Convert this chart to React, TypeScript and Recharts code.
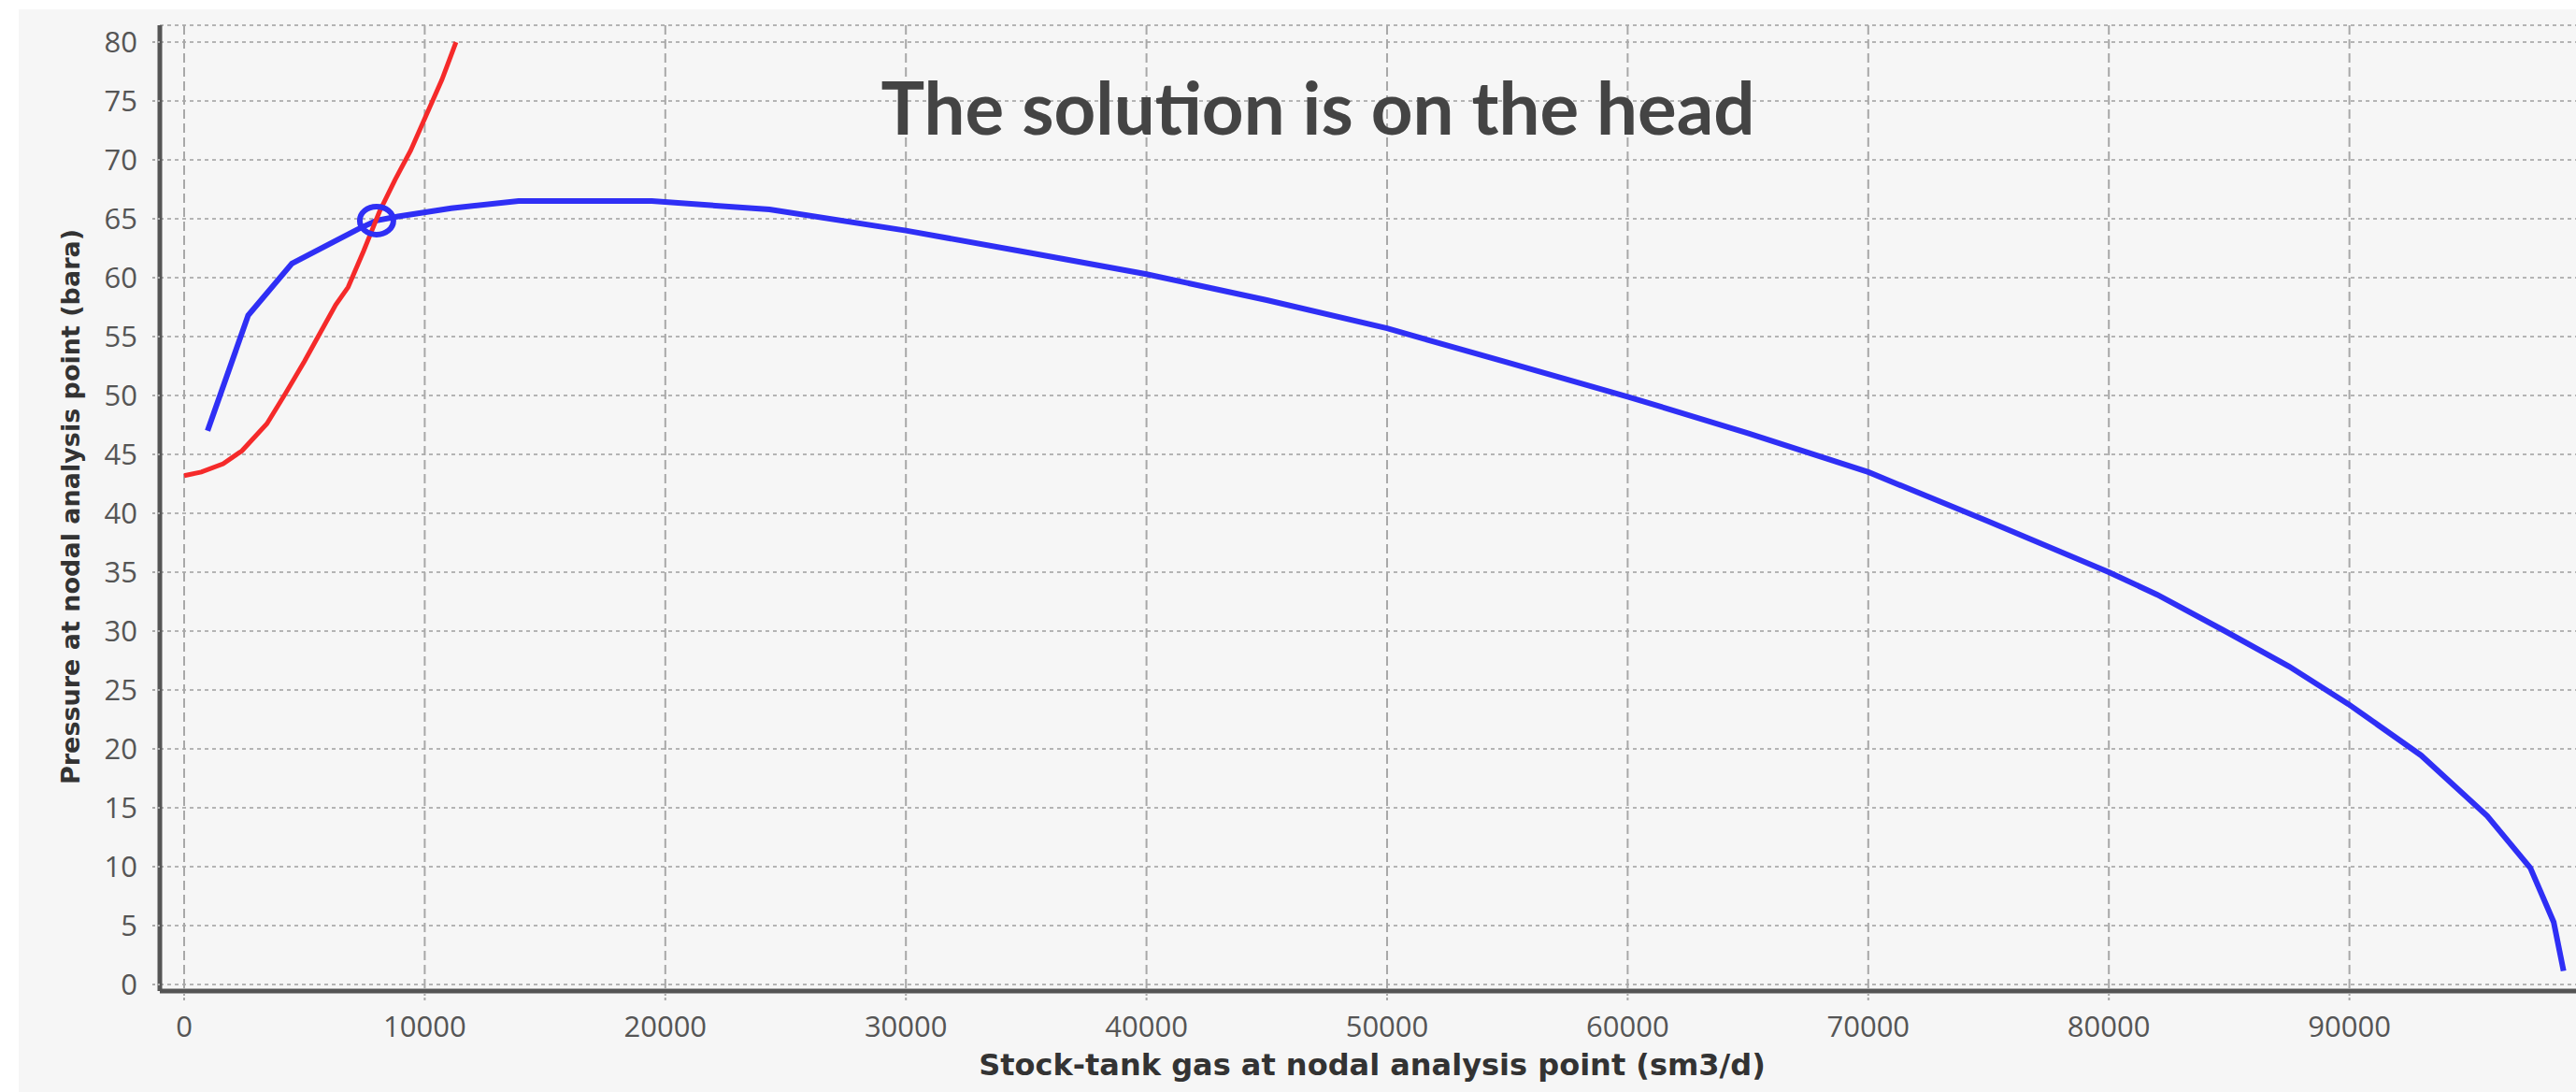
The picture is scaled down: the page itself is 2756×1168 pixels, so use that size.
import {
  ComposedChart,
  Line,
  XAxis,
  YAxis,
  CartesianGrid,
  ReferenceDot,
} from "recharts";

// stock-tank gas rate (sm3/d) vs pressure (bara)
const blueRate = [
  974, 2662, 4480, 7208, 8000, 8896, 11100, 13900, 19440, 24330, 30000, 35170,
  40000, 45000, 50000, 55000, 60000, 65000, 70000, 75000, 80000, 82000, 84740,
  87490, 89960, 92980, 95730, 97520, 98490, 98900,
];
const bluePressure = [
  47.0, 56.8, 61.2, 64.1, 64.85, 65.2, 65.9, 66.5, 66.5, 65.8, 64.0, 62.1,
  60.3, 58.1, 55.7, 52.8, 49.9, 46.8, 43.5, 39.3, 35.0, 33.1, 30.1, 27.0,
  23.8, 19.45, 14.3, 9.9, 5.3, 1.15,
];

const redRate = [
  0, 714, 1623, 2400, 3440, 4220, 5000, 5650, 6300, 6818, 7468, 8117, 8766,
  9416, 10195, 10714, 11300,
];
const redPressure = [
  43.2, 43.5, 44.2, 45.3, 47.6, 50.2, 52.9, 55.3, 57.7, 59.2, 62.3, 65.6, 68.3,
  70.8, 74.4, 76.8, 80.0,
];

const solutionRate = 8000;
const solutionPressure = 64.85;

const xTicks = [0, 10000, 20000, 30000, 40000, 50000, 60000, 70000, 80000, 90000];
const yTicks = [0, 5, 10, 15, 20, 25, 30, 35, 40, 45, 50, 55, 60, 65, 70, 75, 80];

const blueData = blueRate.map((x, i) => ({ x, y: bluePressure[i] }));
const redData = redRate.map((x, i) => ({ x, y: redPressure[i] }));

const tickStyle = { fontFamily: "'Open Sans', sans-serif", fontSize: 31, fill: "#555" };
const labelFont = "'DejaVu Sans', sans-serif";

function SolutionRing(props: any) {
  const { cx, cy } = props;
  return (
    <ellipse cx={cx} cy={cy} rx={18} ry={15} fill="none" stroke="#2f2ff5" strokeWidth={6} />
  );
}

export default function App() {
  return (
    <div
      style={{
        position: "absolute",
        left: 0,
        top: 0,
        width: 2756,
        height: 1168,
        overflow: "hidden",
        background: "#ffffff",
      }}
    >
      <div
        style={{ position: "absolute", left: 20, top: 10, right: 0, bottom: 0, background: "#f6f6f6" }}
      />
      <div style={{ position: "absolute", left: 0, top: 0 }}>
        <ComposedChart width={2800} height={1168} margin={{ top: 27, right: 0, bottom: 0, left: 0 }}>
          <CartesianGrid
            horizontal={true}
            vertical={false}
            stroke="#b4b4b4"
            strokeWidth={2}
            strokeDasharray="4 4"
          />
          <CartesianGrid
            horizontal={false}
            vertical={true}
            stroke="#a8a8a8"
            strokeWidth={2}
            strokeDasharray="10 5"
          />
          <XAxis
            dataKey="x"
            type="number"
            domain={[-1010, 101127]}
            ticks={xTicks}
            allowDataOverflow
            height={108}
            tickSize={10}
            tickMargin={17}
            tick={tickStyle}
            tickLine={{ stroke: "#aaa", strokeWidth: 2, strokeDasharray: "3 2" }}
            axisLine={{ stroke: "#555", strokeWidth: 5 }}
          />
          <XAxis
            xAxisId="top"
            orientation="top"
            type="number"
            domain={[-1010, 101127]}
            height={0}
            tick={false}
            tickLine={false}
            axisLine={{ stroke: "#555", strokeWidth: 5 }}
          />
          <YAxis
            dataKey="y"
            type="number"
            domain={[-0.556, 81.43]}
            ticks={yTicks}
            allowDataOverflow
            width={171}
            tickSize={8}
            tickMargin={16}
            tick={tickStyle}
            tickLine={{ stroke: "#aaa", strokeWidth: 2, strokeDasharray: "3 2" }}
            axisLine={{ stroke: "#555", strokeWidth: 5 }}
          />
          <Line
            data={blueData}
            dataKey="y"
            type="linear"
            stroke="#2f2ff5"
            strokeWidth={6}
            dot={false}
            activeDot={false}
            isAnimationActive={false}
          />
          <Line
            data={redData}
            dataKey="y"
            type="linear"
            stroke="#f52a2a"
            strokeWidth={5}
            dot={false}
            activeDot={false}
            isAnimationActive={false}
          />
          <ReferenceDot
            x={solutionRate}
            y={solutionPressure}
            r={17}
            shape={SolutionRing}
          />
        </ComposedChart>
      </div>
      <svg
        width={2756}
        height={1168}
        style={{ position: "absolute", left: 0, top: 0, pointerEvents: "none" }}
      >
        <text
          x={1410}
          y={144}
          textAnchor="middle"
          fontFamily="Lato, sans-serif"
          fontWeight="bold"
          fontSize={78}
          fill="#444"
        >
          The solution is on the head
        </text>
        <text
          x={1468}
          y={1150}
          textAnchor="middle"
          fontFamily={labelFont}
          fontWeight="bold"
          fontSize={32}
          fill="#333"
        >
          Stock-tank gas at nodal analysis point (sm3/d)
        </text>
        <text
          x={85}
          y={542}
          transform="rotate(-90 85 542)"
          textAnchor="middle"
          fontFamily={labelFont}
          fontWeight="bold"
          fontSize={27}
          fill="#333"
        >
          Pressure at nodal analysis point (bara)
        </text>
      </svg>
    </div>
  );
}
